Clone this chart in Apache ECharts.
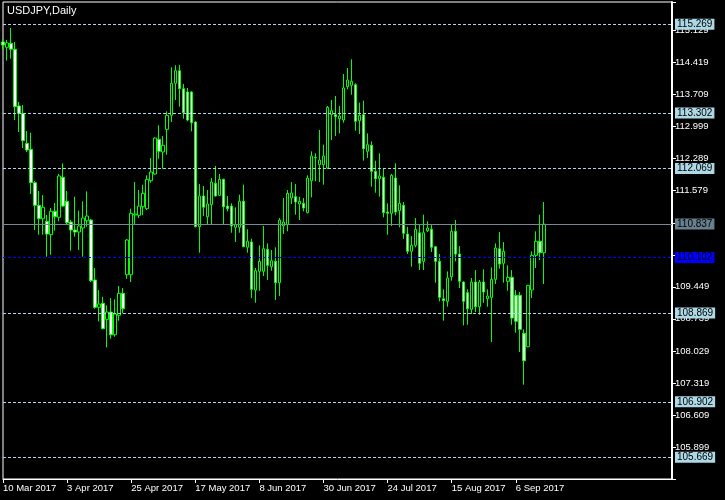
<!DOCTYPE html>
<html>
<head>
<meta charset="utf-8">
<script src="https://cdn.jsdelivr.net/npm/echarts@6/dist/echarts.min.js"></script>
<style>html,body{margin:0;padding:0;background:#000;}#c{width:725px;height:500px;}</style>
</head>
<body>
<div id="c"></div>
<script>
// Daily OHLC, USDJPY, starting 10 Mar 2017 (weekdays)
const openV = [114.877,114.759,114.848,114.715,113.458,113.296,112.631,112.498,111.757,111.256,
110.959,110.901,110.604,111.123,110.990,111.877,111.345,110.886,110.708,110.664,
110.753,110.914,110.930,109.600,108.994,109.083,108.728,108.890,108.387,108.817,
109.305,109.717,109.717,111.041,111.034,111.225,111.181,111.801,111.950,112.719,
112.438,112.941,113.251,113.961,114.240,113.841,113.768,113.768,113.103,110.781,
111.462,111.003,111.269,111.744,111.478,111.832,111.240,111.240,110.768,110.768,
111.345,110.325,110.442,109.378,109.792,109.792,110.280,109.894,110.014,109.540,
110.797,110.826,111.418,111.447,111.285,111.300,111.092,111.801,112.320,112.156,
112.156,112.083,113.265,113.265,113.176,113.147,113.886,113.917,113.930,113.132,
113.265,112.453,112.586,112.010,111.846,111.877,111.107,111.079,111.861,111.136,
111.256,110.620,110.236,110.369,110.648,110.014,110.693,110.724,110.338,110.014,
109.185,109.127,109.673,110.679,110.176,109.555,109.318,108.950,109.555,109.008,
109.555,109.185,109.216,109.615,110.294,109.970,109.571,109.659,109.260,109.260,
108.418,108.121,109.378,110.147,110.458,110.205];
const closeV = [114.810,114.855,114.715,113.442,113.296,112.688,112.482,111.757,111.256,110.959,
111.212,110.620,111.123,111.003,111.906,111.240,110.870,110.708,110.664,110.797,
110.974,111.019,109.584,108.994,109.067,108.520,108.890,108.387,108.846,109.305,
108.963,110.487,111.079,111.063,111.240,111.522,111.832,111.994,112.748,112.453,
112.586,113.251,113.961,114.240,113.841,113.309,113.147,113.087,110.781,111.462,
111.212,111.285,111.773,111.462,111.832,111.225,111.181,110.797,110.826,111.345,
110.338,110.458,109.393,109.806,110.014,110.294,109.925,110.028,109.540,110.930,
110.886,111.522,111.529,111.329,111.345,111.196,111.861,112.349,112.311,112.260,
112.349,113.429,113.353,113.220,113.236,113.857,114.034,114.005,113.118,113.251,
112.511,112.600,112.010,111.846,111.906,111.092,111.079,111.921,111.107,111.300,
110.635,110.236,110.369,110.724,109.970,110.648,110.753,110.325,110.014,109.216,
109.141,109.644,110.679,110.176,109.571,109.127,108.963,109.555,109.008,109.555,
109.334,109.245,109.615,110.309,109.954,110.236,109.659,108.757,108.684,108.506,
107.810,109.482,110.147,110.458,110.205,110.837];
const lowV = [114.699,114.462,114.506,113.147,112.881,112.526,112.438,111.506,110.708,110.604,
110.604,110.116,110.161,110.693,110.901,111.225,110.841,110.249,110.560,110.265,
110.116,110.781,109.555,108.963,108.684,108.510,108.107,108.298,108.342,108.697,
108.861,109.628,109.555,110.841,110.974,111.034,111.152,111.757,111.934,112.289,
112.067,112.378,113.103,113.591,113.442,113.176,113.118,112.897,110.768,110.205,
111.019,110.841,110.841,111.447,111.462,110.841,111.123,110.648,110.442,110.648,
110.325,110.205,109.200,109.096,109.362,109.688,109.600,109.806,109.156,109.245,
110.620,110.679,111.285,111.048,110.930,111.123,111.079,111.433,111.788,111.773,
111.713,112.061,112.704,112.792,112.852,113.087,113.828,113.708,112.910,112.837,
112.245,112.305,111.668,111.535,111.447,110.990,110.604,110.797,111.034,110.768,
110.515,110.176,109.894,110.325,109.821,109.821,110.664,110.220,109.540,109.127,
108.697,109.008,109.584,110.014,109.422,108.595,108.608,108.846,108.890,108.830,
109.096,109.008,108.225,109.511,109.850,109.540,109.362,108.608,108.431,108.003,
107.278,108.110,109.200,109.866,110.043,109.511];
const highV = [114.937,114.921,115.187,114.877,113.546,113.480,112.903,112.866,111.795,111.573,
111.484,111.041,111.196,111.307,111.950,112.187,111.573,110.930,111.447,111.136,
111.345,111.566,110.952,109.866,109.378,109.229,109.039,109.200,109.172,109.467,
109.422,110.509,111.181,111.773,111.595,111.713,111.921,112.305,112.764,113.030,
112.792,113.340,114.316,114.360,114.370,113.946,113.857,113.784,113.118,111.728,
111.684,111.595,111.861,112.127,111.950,111.846,111.462,111.300,111.212,111.491,
111.713,110.724,110.515,109.866,110.369,110.797,110.413,110.265,110.325,110.974,
111.418,111.595,111.773,111.728,111.447,111.418,111.921,112.453,112.409,112.926,
112.600,113.458,113.591,113.679,113.458,114.167,114.300,114.493,113.961,113.531,
113.575,112.852,112.675,112.245,112.409,112.067,111.300,111.950,112.187,111.699,
111.329,110.781,110.575,110.974,110.826,111.048,110.901,110.826,110.353,110.176,
109.393,109.792,110.841,110.930,110.353,109.571,109.393,109.644,109.821,109.600,
109.837,109.393,109.881,110.413,110.664,110.442,109.925,109.821,109.378,109.334,
108.506,109.490,110.236,110.679,111.048,111.329];

const levelLines = [115.269, 113.302, 112.069, 108.869, 106.902, 105.669];
const bidLine = 110.837;
const blueLine = 110.102;
const yTickStart = 105.899, yTickEnd = 115.129, yTickStep = 0.71;
const titleText = 'USDJPY,Daily';
const months = ['Jan','Feb','Mar','Apr','May','Jun','Jul','Aug','Sep','Oct','Nov','Dec'];
const startDate = [2017, 2, 10];
const totalSlots = 168;
const labelEvery = 16;

// categories: trading weekdays + empty slots to the right
const categories = [];
{
  const d = new Date(Date.UTC(startDate[0], startDate[1], startDate[2]));
  while (categories.length < openV.length) {
    const wd = d.getUTCDay();
    if (wd !== 0 && wd !== 6) categories.push(d.getUTCDate() + ' ' + months[d.getUTCMonth()] + ' ' + d.getUTCFullYear());
    d.setUTCDate(d.getUTCDate() + 1);
  }
  for (let i = categories.length; i < totalSlots; i++) categories.push('slot' + i);
}
const candles = openV.map((o, i) => [o, closeV[i], lowV[i], highV[i]]);

const showIdx = (idx) => idx % labelEvery === 0 && idx < openV.length;
const fmt3 = (v) => Number(v).toFixed(3);
const allMarked = levelLines.concat([bidLine, blueLine]);

const markData = levelLines.map(v => ({
  yAxis: v,
  lineStyle: { color: '#add8e6', type: [3, 2], width: 1 },
  label: { backgroundColor: '#add8e6', color: '#000', formatter: fmt3(v) }
}));
markData.push({ yAxis: bidLine, lineStyle: { color: '#778899', type: 'solid', width: 1 },
  label: { backgroundColor: '#687f8e', color: '#000', formatter: fmt3(bidLine) } });
markData.push({ yAxis: blueLine, lineStyle: { color: '#0000ff', type: [3, 2], width: 1 },
  label: { backgroundColor: '#0000ff', color: '#000', formatter: fmt3(blueLine) } });

const yMin = 105.189, yMax = 115.763;

const chart = echarts.init(document.getElementById('c'), null, { renderer: 'canvas' });
chart.setOption({
  backgroundColor: '#000',
  animation: false,
  title: { text: titleText, left: 7, top: 5, padding: 0, textStyle: { color: '#fff', fontSize: 11, fontWeight: 'normal', fontFamily: 'Liberation Sans' } },
  grid: { left: 2, top: 2, right: 53, bottom: 21, show: true, borderColor: '#fff', borderWidth: 1, backgroundColor: '#000' },
  xAxis: {
    type: 'category', data: categories, boundaryGap: false,
    axisLine: { lineStyle: { color: '#fff' } },
    axisTick: { interval: showIdx, length: 4, lineStyle: { color: '#fff' } },
    axisLabel: { interval: showIdx, align: 'left', margin: 4, color: '#fff', fontSize: 9.5, fontFamily: 'Liberation Sans' },
    splitLine: { show: false }
  },
  yAxis: {
    type: 'value', position: 'right', scale: true,
    min: yMin, max: yMax, interval: yTickStep,
    axisLine: { show: true, lineStyle: { color: '#fff', width: 2 } },
    axisTick: { show: true, length: 4, lineStyle: { color: '#fff' } },
    axisLabel: {
      color: '#fff', fontSize: 9.5, margin: 3, fontFamily: 'Liberation Sans',
      formatter: (v) => {
        if (v < yTickStart - 0.001 || v > yTickEnd + 0.001) return '';
        // labels hidden under a level's price box
        if (allMarked.some(m => Math.abs(m - v) < 0.07)) return '';
        const k = (v - yTickStart) / yTickStep;
        return Math.abs(k - Math.round(k)) < 0.01 ? fmt3(v) : '';
      }
    },
    splitLine: { show: false }
  },
  series: [{
    type: 'candlestick',
    data: candles,
    barWidth: 3,
    itemStyle: {
      color: '#000000', color0: '#ffffff',
      borderColor: '#00ff00', borderColor0: '#00ff00', borderColorDoji: '#00ff00',
      borderWidth: 1
    },
    markLine: {
      silent: true, symbol: 'none', animation: false,
      label: { show: true, position: 'end', distance: 3, padding: [1, 2, 0, 2], fontSize: 10,
        fontFamily: 'Liberation Sans' },
      emphasis: { disabled: true },
      data: markData
    }
  }]
});
</script>
</body>
</html>
